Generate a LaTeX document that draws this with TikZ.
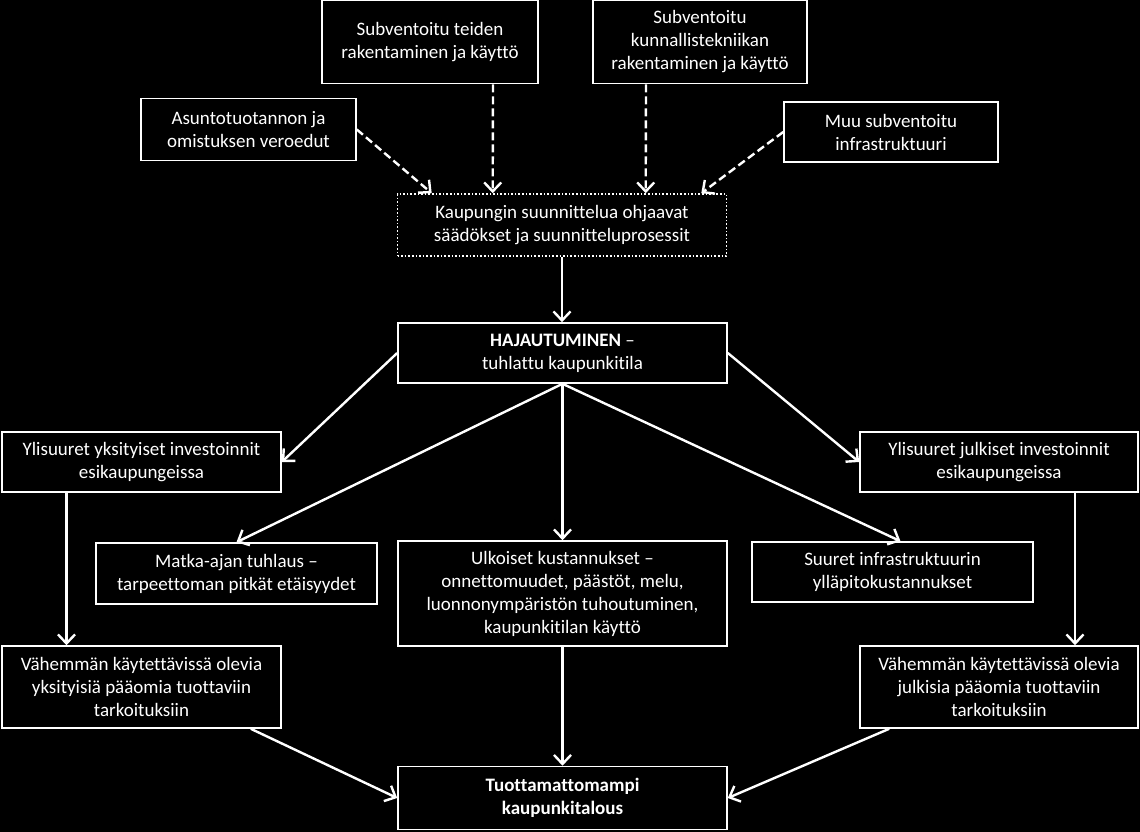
\documentclass[tikz,border=0pt]{standalone}
\usepackage{fontspec}
\setmainfont{Carlito}[Ligatures=NoCommon]
\usetikzlibrary{arrows.meta,calc}
\begin{document}
\begin{tikzpicture}[x=1pt,y=-1pt,
  box/.style={draw=white, line width=1.6pt, fill=black, text=white, align=center,
    inner sep=0pt, font=\fontsize{19}{23}\selectfont},
  dotbox/.style={box, dotted, line width=1.6pt},
  arr/.style={draw=white, line width=2.4pt, -{Straight Barb[length=9pt,width=17pt,line width=2.4pt]}},
  darr/.style={arr, dash pattern=on 8pt off 4pt}]
\fill[black] (0,0) rectangle (1140,832);
\useasboundingbox (0,0) rectangle (1140,832);

\node[box, minimum width=216pt, minimum height=83pt] (b1) at (430,42) {Subventoitu teiden\\rakentaminen ja käyttö};
\node[box, minimum width=214pt, minimum height=83pt] (b2) at (700,42) {Subventoitu\\kunnallistekniikan\\rakentaminen ja käyttö};
\node[box, minimum width=215pt, minimum height=62pt] (b3) at (248.5,129.5) {Asuntotuotannon ja\\omistuksen veroedut};
\node[box, minimum width=214pt, minimum height=60pt] (b4) at (891,132) {Muu subventoitu\\infrastruktuuri};
\node[dotbox, minimum width=329pt, minimum height=62pt] (b5) at (562,225) {Kaupungin suunnittelua ohjaavat\\säädökset ja suunnitteluprosessit};
\node[box, minimum width=329pt, minimum height=60pt] (b6) at (562.5,353) {\textbf{HAJAUTUMINEN} –\\tuhlattu kaupunkitila};
\node[box, minimum width=279pt, minimum height=60pt] (b7) at (141.5,462) {Ylisuuret yksityiset investoinnit\\esikaupungeissa};
\node[box, minimum width=278pt, minimum height=60pt] (b8) at (999,462) {Ylisuuret julkiset investoinnit\\esikaupungeissa};
\node[box, minimum width=281pt, minimum height=61pt] (b9) at (236.5,573.5) {Matka-ajan tuhlaus –\\tarpeettoman pitkät etäisyydet};
\node[box, minimum width=329pt, minimum height=105pt] (b10) at (562.5,593.5) {Ulkoiset kustannukset –\\onnettomuudet, päästöt, melu,\\luonnonympäristön tuhoutuminen,\\kaupunkitilan käyttö};
\node[box, minimum width=281pt, minimum height=60pt] (b11) at (892.5,572) {Suuret infrastruktuurin\\ylläpitokustannukset};
\node[box, minimum width=279pt, minimum height=82pt] (b12) at (141.5,687) {Vähemmän käytettävissä olevia\\yksityisiä pääomia tuottaviin\\tarkoituksiin};
\node[box, minimum width=278pt, minimum height=82pt] (b13) at (999,687) {Vähemmän käytettävissä olevia\\julkisia pääomia tuottaviin\\tarkoituksiin};
\node[box, minimum width=329pt, minimum height=63pt] (b14) at (562.5,798) {\textbf{Tuottamattomampi}\\\textbf{kaupunkitalous}};

% dashed inputs
\draw[darr] (b3.east) -- ($(b5.north west)+(35,0)$);
\draw[darr] ($(b1.south)+(63,0)$) -- ($(b5.north west)+(96,0)$);
\draw[darr] ($(b2.south)+(-54,0)$) -- ($(b5.north west)+(249,0)$);
\draw[darr] (b4.west) -- ($(b5.north east)+(-26,0)$);

% solid
\draw[arr] (b5.south) -- (b5.south |- b6.north);
\draw[arr] (b6.west) -- (b7.east);
\draw[arr] (b6.east) -- (b8.west);
\draw[arr] (b6.south) -- (b9.north);
\draw[arr] (b6.south) -- (b10.north);
\draw[arr] (b6.south) -- ($(b11.north)+(8,0)$);
\draw[arr] ($(b7.south)+(-75,0)$) -- ($(b12.north)+(-75,0)$);
\draw[arr] ($(b8.south)+(76,0)$) -- ($(b13.north)+(76,0)$);
\draw[arr] (b10.south) -- (b14.north);
\draw[arr] ($(b12.south east)+(-31,0)$) -- (b14.west);
\draw[arr] ($(b13.south west)+(30,0)$) -- (b14.east);
\end{tikzpicture}
\end{document}
